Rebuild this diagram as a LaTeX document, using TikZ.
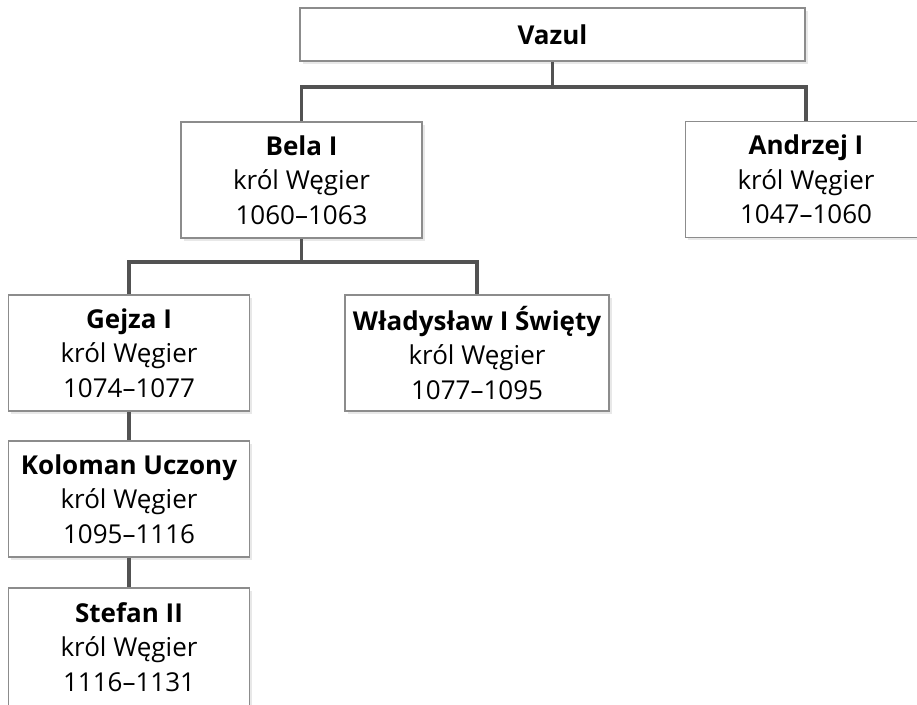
\documentclass[tikz,border=0pt]{standalone}
\usepackage{fontspec}
\setmainfont{Open Sans}
\usepackage{tikz}
\usetikzlibrary{positioning,shadows}

\begin{document}
\begin{tikzpicture}[node distance=2.92cm,on grid,
  osoba/.style={draw=black!45,line width=1.1pt,fill=white,align=center,
    minimum width=4.82cm,minimum height=2.32cm,inner sep=0pt,
    font=\fontsize{14.8}{19.6}\selectfont,
    drop shadow={shadow xshift=0.05cm,shadow yshift=-0.05cm,fill=black!18}},
  linia/.style={draw=black!68,line width=2pt}]
\useasboundingbox (0,0) rectangle (18.34,-14.08);
\node[osoba,minimum width=10.1cm,minimum height=1.06cm] (vazul) at (11.05,-0.69) {\textbf{Vazul}};
\node[osoba] (bela) [below left=2.91cm and 5.02cm of vazul] {\textbf{Bela I}\\król Węgier\\1060–1063};
\node[osoba] (andrzej) [below right=2.9cm and 5.07cm of vazul] {\textbf{Andrzej I}\\król Węgier\\1047–1060};
\node[osoba] (gejza) [below left=3.46cm and 3.45cm of bela] {\textbf{Gejza I}\\król Węgier\\1074–1077};
\node[osoba,minimum width=5.28cm] (wladyslaw) [below right=3.46cm and 3.51cm of bela] {\textbf{Władysław I Święty}\\król Węgier\\1077–1095};
\node[osoba] (koloman) [below=of gejza] {\textbf{Koloman Uczony}\\król Węgier\\1095–1116};
\node[osoba,minimum height=2.36cm] (stefan) [below=2.96cm of koloman] {\textbf{Stefan II}\\król Węgier\\1116–1131};
\coordinate (rozg1) at (0,-1.74);
\coordinate (rozg2) at (0,-5.24);
% rozgalezienia
\path[linia]
(vazul.south) -- (vazul.south |- rozg1)
(bela.north) -- (bela.north |- rozg1) -- (andrzej.north |- rozg1) -- (andrzej.north)
(bela.south) -- (bela.south |- rozg2)
(gejza.north) -- (gejza.north |- rozg2) -- (wladyslaw.north |- rozg2) -- (wladyslaw.north)
(gejza.south) -- (koloman.north)
(koloman.south) -- (stefan.north);
\end{tikzpicture}
\end{document}
